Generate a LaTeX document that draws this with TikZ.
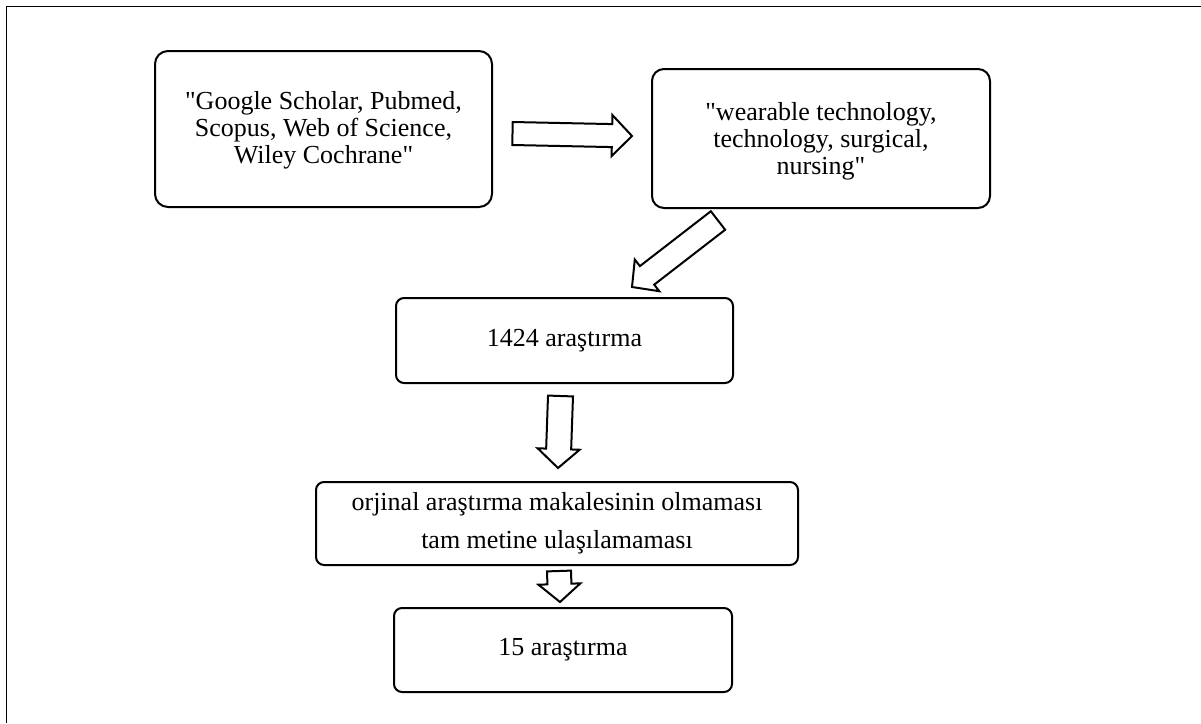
\documentclass[tikz,border=0pt]{standalone}
\usepackage{fontspec}
\setmainfont{Liberation Serif}[Ligatures=TeXOff]
\usetikzlibrary{calc}

% hollow block arrow: tail, tip, half shaft, half head, head length
\newcommand{\blockarrow}[5]{%
    \path ($(#2)!#5!(#1)$) coordinate (hb);
    \draw[arrowline] ($(#1)!#3!90:(#2)$) -- ($(hb)!#3!-90:(#1)$) -- ($(hb)!#4!-90:(#1)$) -- (#2)
        -- ($(hb)!#4!90:(#1)$) -- ($(hb)!#3!90:(#1)$) -- ($(#1)!#3!-90:(#2)$) -- cycle;
}

\begin{document}
\begin{tikzpicture}[
                x=1pt,y=-1pt,
                box/.style={draw,line width=2pt,rounded corners=8pt,inner sep=0pt,align=center,
                    font=\fontsize{26}{27}\selectfont},
                arrowline/.style={draw,line width=2pt,line join=miter,fill=white}
            ]
                \useasboundingbox (0,0) rectangle (1201,723);
                \draw[line width=1.6pt] (6.5,723) -- (6.5,6.5) -- (1201,6.5);

                \node (db)    [box,rounded corners=13pt,minimum width=337pt,minimum height=156pt] at (323.5,129)
                    {\rule{0pt}{21pt}"Google Scholar, Pubmed,\\ Scopus, Web of Science,\\ Wiley Cochrane"};
                \node (kw)    [box,rounded corners=12pt,minimum width=338pt,minimum height=139pt] at (821,138.5)
                    {\rule{0pt}{24pt}"wearable technology,\\ technology, surgical,\\ nursing"};
                \node (all)   [box,minimum width=337pt,minimum height=85pt] at (564.5,340.5) {1424 araştırma};
                \node (excl)  [box,minimum width=482pt,minimum height=83pt,font=\fontsize{26}{38}\selectfont] at (557,523.5)
                    {orjinal araştırma makalesinin olmaması\\ tam metine ulaşılamaması};
                \node (final) [box,minimum width=338pt,minimum height=84pt] at (563,650) {15 araştırma};

                \coordinate (t1) at ($(db.east)+(19.5,4.5)$);
                \coordinate (h1) at ($(kw.west)+(-19,-2.5)$);
                \coordinate (t2) at ($(kw.south)+(-103,11.5)$);
                \coordinate (h2) at ($(all.north)+(67.5,-10)$);
                \coordinate (t3) at ($(all.south)+(-4,12)$);
                \coordinate (h3) at ($(excl.north)+(1,-13)$);
                \coordinate (t4) at ($(excl.south)+(2,5)$);
                \coordinate (h4) at ($(final.north)+(-3,-5)$);

                \blockarrow{t1}{h1}{11.5pt}{20.5pt}{20pt}
                \blockarrow{t2}{h2}{11.7pt}{20pt}{19pt}
                \blockarrow{t3}{h3}{12.5pt}{21pt}{19pt}
                \blockarrow{t4}{h4}{12pt}{21pt}{18pt}
            \end{tikzpicture}
\end{document}
